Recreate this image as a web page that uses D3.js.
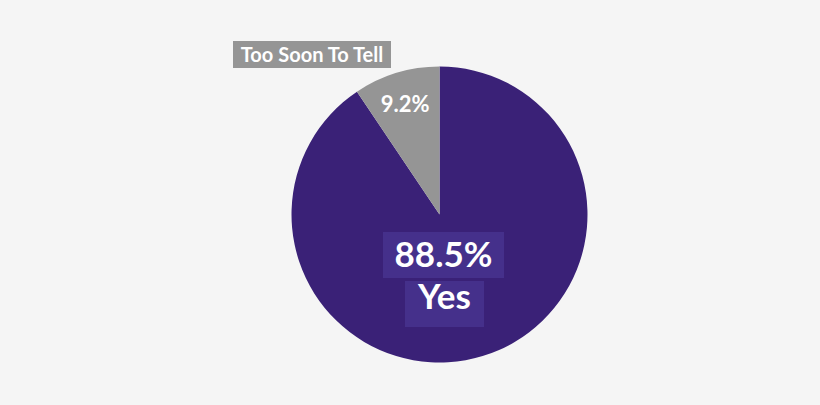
<!DOCTYPE html>
<html>
<head>
<meta charset="utf-8">
<script src="https://cdn.jsdelivr.net/npm/d3@7"></script>
<style>
  html, body { margin: 0; padding: 0; background: #f5f5f5; }
  svg { display: block; font-family: Lato, "Open Sans", sans-serif; }
</style>
</head>
<body>
<svg id="chart"></svg>
<script>
const WIDTH = 820;
const HEIGHT = 405;

const categories = ['Yes', 'Too Soon To Tell'];
const values = [88.5, 9.2];
const valueLabels = ['88.5%', '9.2%'];
const colors = ['#3a2177', '#959595'];

const cx = 439.5;
const cy = 214.5;
const radius = 148;

const svg = d3.select('#chart')
  .attr('width', WIDTH)
  .attr('height', HEIGHT);

svg.append('rect')
  .attr('width', WIDTH)
  .attr('height', HEIGHT)
  .attr('fill', '#f5f5f5');

const slices = d3.pie().sort(null)(values);

const arc = d3.arc().innerRadius(0).outerRadius(radius);
const labelArc = d3.arc().innerRadius(radius * 0.75).outerRadius(radius * 0.75);

const g = svg.append('g')
  .attr('transform', `translate(${cx}, ${cy})`);

g.selectAll('path')
  .data(slices)
  .enter()
  .append('path')
  .attr('d', arc)
  .attr('fill', (d, i) => colors[i]);

// small label inside the grey slice
const gray = slices[1];
const [gx, gy] = labelArc.centroid(gray);
g.append('text')
  .attr('x', gx - 2)
  .attr('y', gy + 4)
  .attr('text-anchor', 'middle')
  .attr('fill', '#fff')
  .attr('font-size', 22)
  .attr('font-weight', 700)
  .text(valueLabels[1]);

// category tag for the grey slice, up-left of the pie
const tag = svg.append('g');
tag.append('rect')
  .attr('x', 233)
  .attr('y', 41)
  .attr('width', 158)
  .attr('height', 27)
  .attr('fill', '#959595');
tag.append('text')
  .attr('x', 312)
  .attr('y', 62)
  .attr('text-anchor', 'middle')
  .attr('fill', '#fff')
  .attr('font-size', 20)
  .attr('font-weight', 700)
  .text(categories[1]);

// big label for Yes, two boxed lines
const yesLines = [valueLabels[0], categories[0]];
const boxes = [
  { x: 383, y: 232, w: 121, h: 46, base: 267 },
  { x: 405, y: 281, w: 79, h: 46, base: 309 }
];
const yesGroup = svg.append('g');
yesLines.forEach((t, i) => {
  const b = boxes[i];
  yesGroup.append('rect')
    .attr('x', b.x)
    .attr('y', b.y)
    .attr('width', b.w)
    .attr('height', b.h)
    .attr('fill', '#45308b');
  yesGroup.append('text')
    .attr('x', b.x + b.w / 2)
    .attr('y', b.base)
    .attr('text-anchor', 'middle')
    .attr('fill', '#fff')
    .attr('font-size', 35)
    .attr('font-weight', 700)
    .text(t);
});
</script>
</body>
</html>
